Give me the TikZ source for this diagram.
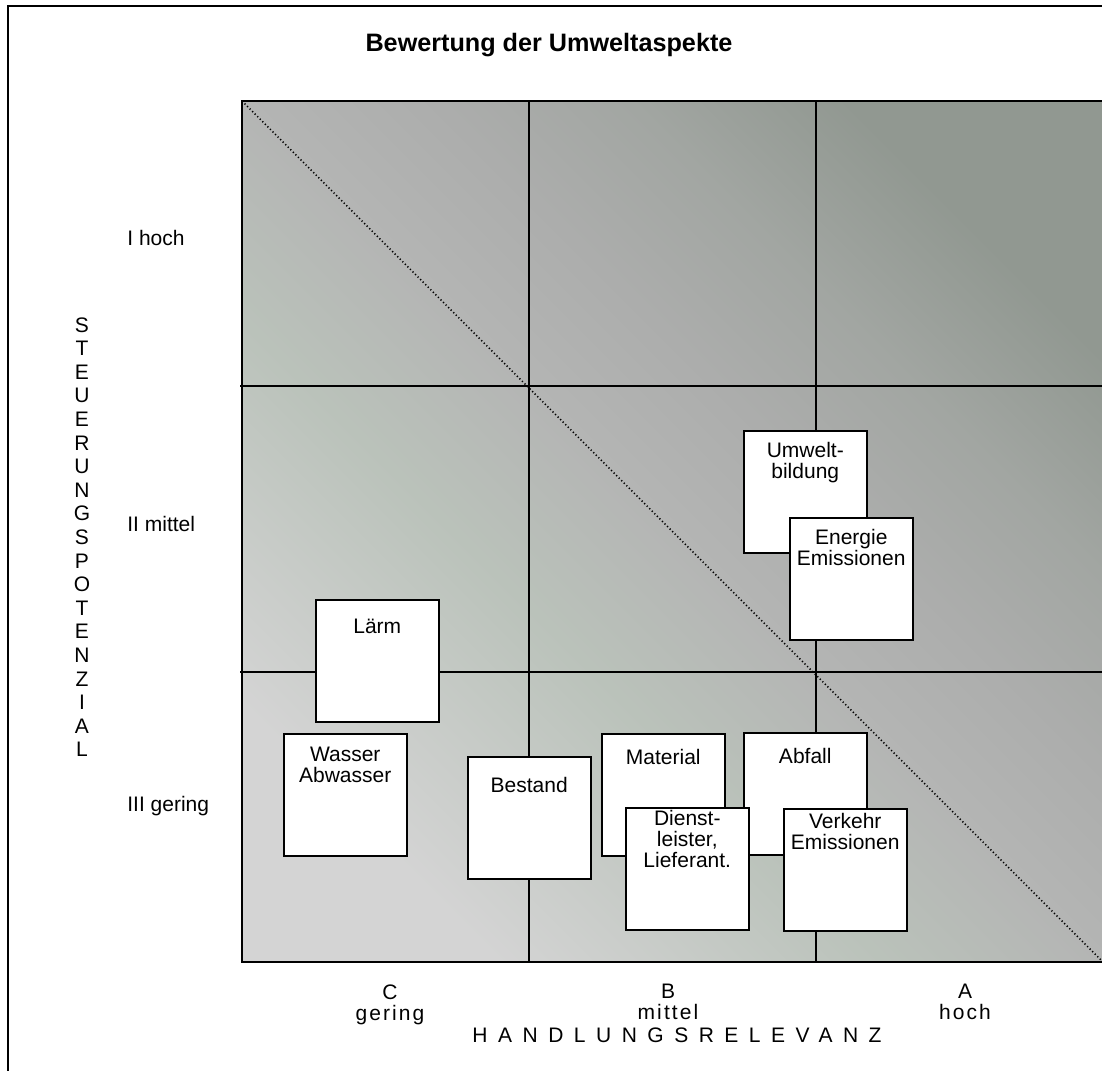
\documentclass[tikz,border=0pt]{standalone}
\usepackage{fontspec}
\setmainfont{Liberation Sans}
\newfontfamily\spacedfont[LetterSpace=50]{Liberation Sans}
\newfontfamily\loosefont[LetterSpace=10]{Liberation Sans}
\usepackage{xcolor}
\usetikzlibrary{positioning}

\definecolor{bgA}{RGB}{212,212,212}
\definecolor{bgB}{RGB}{186,194,186}
\definecolor{bgC}{RGB}{180,181,180}
\definecolor{bgD}{RGB}{172,173,172}
\definecolor{bgE}{RGB}{162,166,162}
\definecolor{bgF}{RGB}{145,152,145}
\pgfdeclarehorizontalshading{umweltbg}{100bp}{color(0bp)=(bgA); color(25bp)=(bgA); color(41bp)=(bgB); color(50bp)=(bgC); color(58bp)=(bgD); color(66bp)=(bgE); color(75bp)=(bgF); color(100bp)=(bgF)}

\begin{document}
\begin{tikzpicture}[x=0.5pt,y=-0.5pt,
  box/.style={anchor=north west,draw=black,fill=white,line width=0.75pt,minimum width=61.5pt,minimum height=61pt,inner sep=0pt},
  boxtext/.style={anchor=north,align=center,inner sep=0pt,font=\fontsize{10.5}{10.5}\selectfont},
  rowlabel/.style={anchor=base west,inner sep=0pt,font=\fontsize{10.5}{10.5}\selectfont},
  collabel/.style={anchor=north,align=center,inner sep=0pt,font=\loosefont\fontsize{10.5}{10.5}\selectfont},
  gridline/.style={line width=0.75pt},
  diag/.style={line width=0.8pt,dash pattern=on 0.6pt off 1.2pt}]
\clip (0,0) rectangle (1102,1070);
\fill[white] (0,0) rectangle (1102,1070);
\draw[line width=1pt] (8,6) rectangle (1115,1085);
% title
\node[font=\bfseries\fontsize{12.6}{14}\selectfont] (title) at (549,45) {Bewertung der Umweltaspekte};
% matrix background and grid
\shade[shading=umweltbg,shading angle=45] (242,101) rectangle (1103,962);
\draw[gridline] (242,101) rectangle (1103,962);
\draw[gridline] (529,101) -- (529,962);
\draw[gridline] (816,101) -- (816,962);
\draw[gridline] (240,386) -- (1103,386);
\draw[gridline] (240,672) -- (1103,672);
\draw[diag] (242,101) -- (1103,962);
% axis labels
\node[rowlabel] (rowI) at (127,245) {I hoch};
\node[rowlabel] (rowII) at (127,531) {II mittel};
\node[rowlabel] (rowIII) at (127,811) {III gering};
\node[anchor=north,align=center,inner sep=0pt,font=\fontsize{10.5}{11.8}\selectfont] (yaxis) at (82,317)
  {S\\T\\E\\U\\E\\R\\U\\N\\G\\S\\P\\O\\T\\E\\N\\Z\\I\\A\\L};
\node[collabel] (colC) at (390,984) {C\\gering};
\node[collabel] (colB) at (668,984) {B\\mittel};
\node[collabel] (colA) at (965,984) {A\\hoch};
\node[anchor=north,inner sep=0pt,font=\spacedfont\fontsize{10.5}{10.5}\selectfont] (xaxis) at (677,1027) {HANDLUNGSRELEVANZ};
% aspects
\node[box] (laerm) at (315,599) {};
\node[boxtext] (laerm-t) at ([yshift=-10pt]laerm.north) {Lärm};
\node[box] (wasser) at (283,733) {};
\node[boxtext] (wasser-t) at ([yshift=-7pt]wasser.north) {Wasser\\Abwasser};
\node[box] (bestand) at (467,756) {};
\node[boxtext] (bestand-t) at ([yshift=-10.5pt]bestand.north) {Bestand};
\node[box] (material) at (601,733) {};
\node[boxtext] (material-t) at ([yshift=-8pt]material.north) {Material};
\node[box] (abfall) at (743,732) {};
\node[boxtext] (abfall-t) at ([yshift=-8pt]abfall.north) {Abfall};
\node[box] (dienst) at (625,807) {};
\node[boxtext] (dienst-t) at ([yshift=-1.5pt]dienst.north) {Dienst-\\leister,\\Lieferant.};
\node[box] (verkehr) at (783,808) {};
\node[boxtext] (verkehr-t) at ([yshift=-2.5pt]verkehr.north) {Verkehr\\Emissionen};
\node[box] (umwelt) at (743,430) {};
\node[boxtext] (umwelt-t) at ([yshift=-6pt]umwelt.north) {Umwelt-\\bildung};
\node[box] (energie) at (789,517) {};
\node[boxtext] (energie-t) at ([yshift=-6pt]energie.north) {Energie\\Emissionen};
\end{tikzpicture}
\end{document}
